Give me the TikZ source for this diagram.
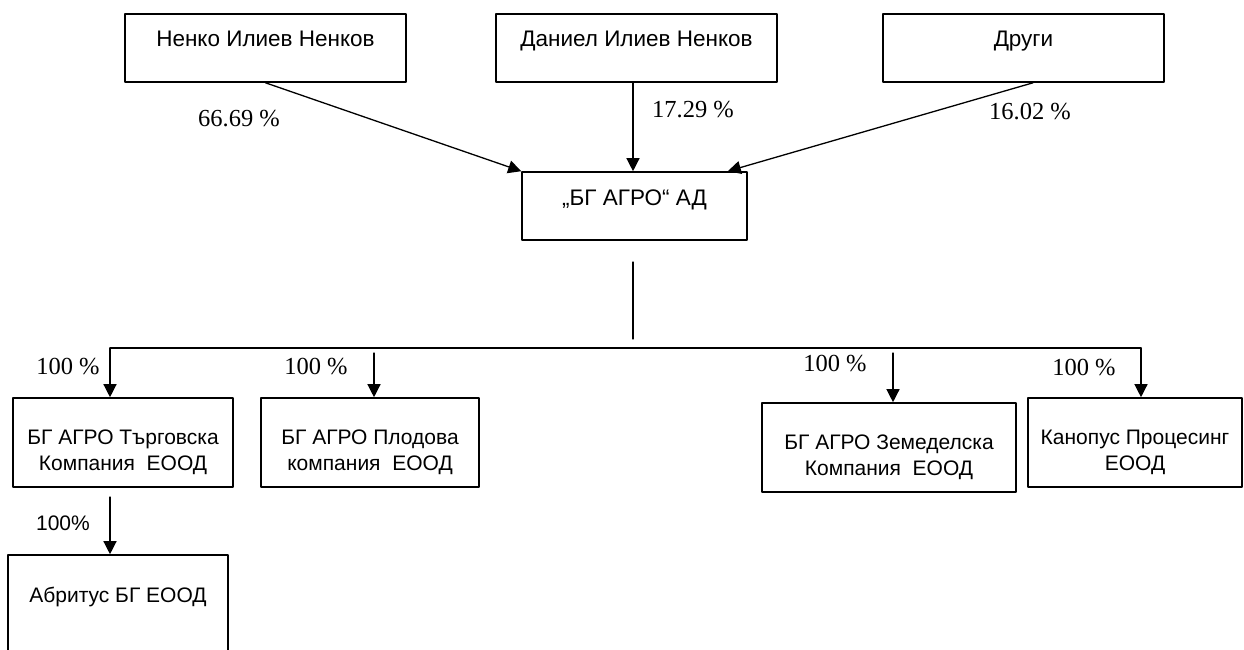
\documentclass[tikz,border=0pt]{standalone}
\usepackage{fontspec}
\setmainfont{Liberation Sans}
\newfontfamily\timesfont{Liberation Serif}
\usetikzlibrary{arrows.meta}
\usetikzlibrary{positioning}

\tikzset{
  firm/.style={draw,line width=1.6pt,inner xsep=0pt,inner ysep=0pt,minimum height=0pt,text height=33pt,text depth=35pt},
  owner/.style={firm,font=\fontsize{22.5}{26}\selectfont},
  firm2/.style={firm,align=center,text height=72pt,text depth=17pt},
  share/.style={font=\timesfont\fontsize{24.5}{28}\selectfont},
  wire/.style={line width=1.3pt},
  link/.style={->,line width=1.3pt},
}

\begin{document}
\begin{tikzpicture}[line cap=round,line join=round,>={Triangle[length=13pt,width=13pt]},x=1pt,y=-1pt,
  every node/.style={font=\fontsize{21}{26}\selectfont}]
\useasboundingbox (0,0) rectangle (1244,650);
\clip(0,0) rectangle (1244,650);
% owners
\node [owner,minimum width=281pt] (nenko) at (265.5,48) {Ненко Илиев Ненков};
\node [owner,minimum width=281pt] (daniel) at (636.5,48) {Даниел Илиев Ненков};
\node [owner,minimum width=281pt] (drugi) at (1023.5,48) {Други};
\node [owner,minimum width=225pt] (bgagro) at (634.5,206) {„БГ АГРО“ АД};
% subsidiaries
\node [firm2,minimum width=220pt] (targ) at (123,442.5) {БГ АГРО Търговска\\Компания~~ЕООД};
\node [firm2,minimum width=218pt] (plod) at (370,442.5) {БГ АГРО Плодова\\компания~~ЕООД};
\node [firm2,minimum width=254pt] (zemed) at (889,447.5) {БГ АГРО Земеделска\\Компания~~ЕООД};
\node [firm2,minimum width=214pt] (kanop) at (1135,442.5) {Канопус Процесинг\\ЕООД};
\node [firm,minimum width=220pt,text height=47pt,text depth=100pt] (abrit) at (118,628.5) {Абритус БГ ЕООД};
% shares
\draw [link] (nenko.south) -- (bgagro.north west);
\draw [link] ([xshift=-3.5pt]daniel.south) -- ([xshift=-1.5pt]bgagro.north);
\draw [link] ([xshift=9.5pt]drugi.south) -- ([xshift=-20pt]bgagro.north east);
\node [share] (p1) at (239,119) {66.69 \%};
\node [share] (p2) at (693,110) {17.29 \%};
\node [share] (p3) at (1030,111.5) {16.02 \%};
% tree
\coordinate (stemtop) at (633,262);
\coordinate (stembot) at (633,339);
\coordinate (busL) at (110,348);
\coordinate (busR) at (1141,348);
\coordinate (plodtop) at (374,353);
\coordinate (zemtop) at (893,353);
\coordinate (abtop) at (110,497);
\draw [wire] (stemtop) -- (stembot);
\draw [wire] (busL) -- (busR);
\draw [link] (busL) -- (busL |- targ.north);
\draw [link] (busR) -- (busR |- kanop.north);
\draw [link] (plodtop) -- (plodtop |- plod.north);
\draw [link] (zemtop) -- (zemtop |- zemed.north);
\draw [link] (abtop) -- (abtop |- abrit.north);
\node [share] (p4) at (68,366.5) {100 \%};
\node [share] (p5) at (316,366.5) {100 \%};
\node [share] (p6) at (835,363.5) {100 \%};
\node [share] (p7) at (1084,368) {100 \%};
\node (p8) at (63,523.5) {100\%};
\end{tikzpicture}
\end{document}
